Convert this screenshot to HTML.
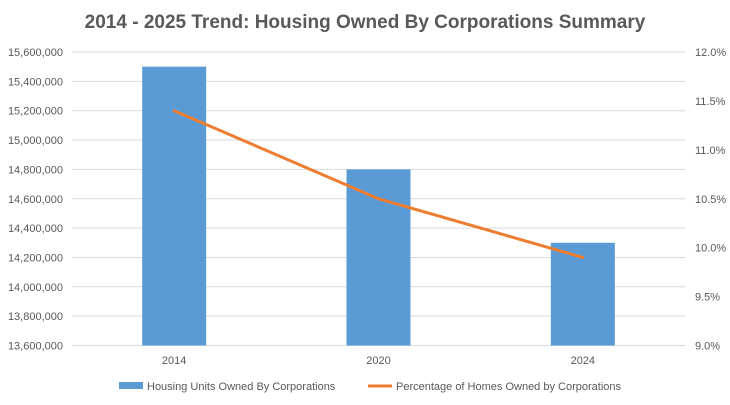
<!DOCTYPE html>
<html><head><meta charset="utf-8"><style>
body{margin:0;background:#fff;}
svg text{font-family:"Liberation Sans",sans-serif;}
</style></head><body>
<svg id="chart" width="730" height="400" xmlns="http://www.w3.org/2000/svg">
<rect width="730" height="400" fill="#fff"/>
<text x="365" y="28" text-anchor="middle" font-size="19" font-weight="bold" fill="#595959">2014 - 2025 Trend: Housing Owned By Corporations Summary</text>
<g id="grid"></g><g id="bars"></g><g id="line"></g><g id="axes"></g>
<g>
<rect x="119" y="382" width="24" height="7" fill="#5b9bd5"/>
<text x="147" y="390" font-size="11" fill="#595959">Housing Units Owned By Corporations</text>
<line x1="368" y1="386" x2="392" y2="386" stroke="#ed7d31" stroke-width="3"/>
<text x="396" y="390" font-size="11" fill="#595959">Percentage of Homes Owned by Corporations</text>
</g>
</svg>
<script>
const categories=["2014","2020","2024"];
const units=[15500000,14800000,14300000];
const pct=[11.4,10.5,9.9];
const leftTicks=[13600000,13800000,14000000,14200000,14400000,14600000,14800000,15000000,15200000,15400000,15600000];
const rightTicks=[9.0,9.5,10.0,10.5,11.0,11.5,12.0];
const NS="http://www.w3.org/2000/svg";
const L=72,R=685,T=52,B=345.5;
const yL=v=>B-(v-13600000)/2000000*(B-T);
const yR=v=>B-(v-9)/3*(B-T);
const band=(R-L)/categories.length;
const xC=i=>L+band*(i+0.5);
function mk(tag,attrs,parent,txt){const e=document.createElementNS(NS,tag);for(const k in attrs)e.setAttribute(k,attrs[k]);if(txt!==undefined)e.textContent=txt;document.getElementById(parent).appendChild(e);return e;}
leftTicks.forEach(v=>{
 const g=mk("line",{x1:L,x2:R,y1:yL(v),y2:yL(v),stroke:"#d9d9d9","stroke-width":1},"grid");
 
 
 const t=mk("text",{x:63,y:yL(v)+4,"text-anchor":"end","font-size":11,fill:"#595959"},"axes",v.toLocaleString("en-US"));
 
 
});
rightTicks.forEach(v=>{
 const t=mk("text",{x:695,y:yR(v)+4,"font-size":11,fill:"#595959"},"axes",v.toFixed(1)+"%");
 
 
});
categories.forEach((c,i)=>{
 const w=64;
 const b=mk("rect",{x:xC(i)-w/2,y:yL(units[i]),width:w,height:B-yL(units[i]),fill:"#5b9bd5"},"bars");
 
 
 const t=mk("text",{x:xC(i),y:364,"text-anchor":"middle","font-size":11,fill:"#595959"},"axes",c);
 
 
});
const p=mk("polyline",{points:pct.map((v,i)=>xC(i)+","+yR(v)).join(" "),fill:"none",stroke:"#ed7d31","stroke-width":3,"stroke-linecap":"round","stroke-linejoin":"round"},"line");


</script>
</body></html>
